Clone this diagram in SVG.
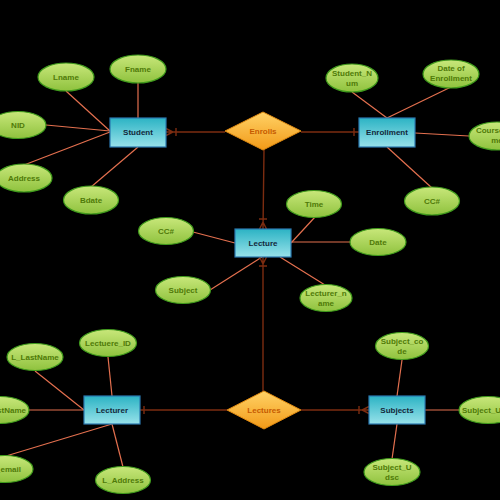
<svg xmlns="http://www.w3.org/2000/svg" width="500" height="500" viewBox="0 0 500 500">
  <defs>
    <linearGradient id="entFill" x1="0" y1="0" x2="0" y2="1">
      <stop offset="0" stop-color="#2cb3c4"/>
      <stop offset="1" stop-color="#98e2ea"/>
    </linearGradient>
    <linearGradient id="relFill" x1="0" y1="0" x2="0" y2="1">
      <stop offset="0" stop-color="#ffd266"/>
      <stop offset="1" stop-color="#f29a18"/>
    </linearGradient>
    <linearGradient id="attFill" x1="0" y1="0" x2="0" y2="1">
      <stop offset="0" stop-color="#c8e77a"/>
      <stop offset="1" stop-color="#8fc23e"/>
    </linearGradient>
    <style>
      .ent rect { fill: url(#entFill); stroke: #2a78b0; stroke-width: 1.2; }
      .rel polygon { fill: url(#relFill); stroke: #e08a10; stroke-width: 1; }
      .att ellipse { fill: url(#attFill); stroke: #3f9a1c; stroke-width: 1.2; }
      text { font-family: "Liberation Sans", Arial, sans-serif; font-weight: bold; font-size: 8px; text-anchor: middle; }
      .ent text { fill: #14283a; }
      .rel text { fill: #c65a00; }
      .att text { fill: #4f7a08; }
      .attr-line { stroke: #e4704f; stroke-width: 1.2; fill: none; }
      .rel-line { stroke: #7c2c10; stroke-width: 1.4; fill: none; }
    </style>
  </defs>
  <rect width="500" height="500" fill="#000"/>

  <!-- connectors -->
  <g id="connectors">
    <!-- attribute links -->
    <line class="attr-line" x1="66" y1="91" x2="110" y2="131"/>
    <line class="attr-line" x1="138" y1="83" x2="138" y2="118"/>
    <line class="attr-line" x1="46" y1="125" x2="110" y2="131"/>
    <line class="attr-line" x1="24" y1="165" x2="110" y2="132"/>
    <line class="attr-line" x1="91" y1="187" x2="138" y2="147"/>
    <line class="attr-line" x1="352" y1="92" x2="387" y2="118"/>
    <line class="attr-line" x1="451" y1="87" x2="387" y2="118"/>
    <line class="attr-line" x1="415" y1="133" x2="469" y2="136"/>
    <line class="attr-line" x1="432" y1="188" x2="387" y2="147"/>
    <line class="attr-line" x1="315" y1="217" x2="291" y2="243"/>
    <line class="attr-line" x1="193" y1="232" x2="235" y2="243"/>
    <line class="attr-line" x1="291" y1="242" x2="350" y2="242"/>
    <line class="attr-line" x1="210" y1="290" x2="262" y2="257"/>
    <line class="attr-line" x1="325" y1="285" x2="280" y2="257"/>
    <line class="attr-line" x1="108" y1="357" x2="112" y2="396"/>
    <line class="attr-line" x1="35" y1="371" x2="84" y2="410"/>
    <line class="attr-line" x1="29" y1="410" x2="84" y2="410"/>
    <line class="attr-line" x1="6" y1="456" x2="112" y2="424"/>
    <line class="attr-line" x1="123" y1="467" x2="112" y2="424"/>
    <line class="attr-line" x1="402" y1="360" x2="397" y2="396"/>
    <line class="attr-line" x1="425" y1="410" x2="459" y2="410"/>
    <line class="attr-line" x1="392" y1="459" x2="397" y2="424"/>

    <!-- relationship links with cardinality ends -->
    <path class="rel-line" d="M166 132 H225 M166 128.5 L173 132 L166 135.5 M176 128 V136"/>
    <path class="rel-line" d="M301 132 H359 M354 128 V136"/>
    <path class="rel-line" d="M264 150 L263 229 M259 219 H267 M259.5 229 L263 222 L266.5 229"/>
    <path class="rel-line" d="M263 257 V391 M259.5 257 L263 264 L266.5 257 M259 266 H267"/>
    <path class="rel-line" d="M227 410 H140 M144 406 V414"/>
    <path class="rel-line" d="M301 410 H369 M369 406.5 L362 410 L369 413.5 M359 406 V414"/>
  </g>

  <!-- entities -->
  <g id="student" class="ent"><rect x="110" y="118" width="56" height="29"/><text x="138" y="135">Student</text></g>
  <g id="enrollment" class="ent"><rect x="359" y="118" width="56" height="29"/><text x="387" y="135">Enrollment</text></g>
  <g id="lecture" class="ent"><rect x="235" y="229" width="56" height="28"/><text x="263" y="246">Lecture</text></g>
  <g id="lecturer" class="ent"><rect x="84" y="396" width="56" height="28"/><text x="112" y="413">Lecturer</text></g>
  <g id="subjects" class="ent"><rect x="369" y="396" width="56" height="28"/><text x="397" y="413">Subjects</text></g>

  <!-- relationships -->
  <g id="enrolls" class="rel"><polygon points="225,131 263,112 301,131 263,150"/><text x="263" y="134">Enrolls</text></g>
  <g id="lectures" class="rel"><polygon points="227,410 264,391 301,410 264,429"/><text x="264" y="413">Lectures</text></g>

  <!-- attributes -->
  <g id="att-lname" class="att"><ellipse cx="66" cy="77" rx="28" ry="14"/><text x="66" y="80">Lname</text></g>
  <g id="att-fname" class="att"><ellipse cx="138" cy="69" rx="28" ry="14"/><text x="138" y="72">Fname</text></g>
  <g id="att-nid" class="att"><ellipse cx="18" cy="125" rx="28" ry="13.5"/><text x="18" y="128">NID</text></g>
  <g id="att-address" class="att"><ellipse cx="24" cy="178" rx="28" ry="14"/><text x="24" y="181">Address</text></g>
  <g id="att-bdate" class="att"><ellipse cx="91" cy="200" rx="27.5" ry="14"/><text x="91" y="203">Bdate</text></g>
  <g id="att-student-num" class="att"><ellipse cx="352" cy="78" rx="26" ry="14"/><text x="352" y="76">Student_N</text><text x="352" y="86">um</text></g>
  <g id="att-date-enrollment" class="att"><ellipse cx="451" cy="74" rx="28" ry="14"/><text x="451" y="71">Date of</text><text x="451" y="81">Enrollment</text></g>
  <g id="att-course" class="att"><ellipse cx="497" cy="136" rx="28" ry="14"/><text x="497" y="133">Course_Na</text><text x="497" y="143">me</text></g>
  <g id="att-cc-enrollment" class="att"><ellipse cx="432" cy="201" rx="27.5" ry="14"/><text x="432" y="204">CC#</text></g>
  <g id="att-time" class="att"><ellipse cx="314" cy="204" rx="27.5" ry="13.5"/><text x="314" y="207">Time</text></g>
  <g id="att-cc-lecture" class="att"><ellipse cx="166" cy="231" rx="27.5" ry="13.5"/><text x="166" y="234">CC#</text></g>
  <g id="att-date" class="att"><ellipse cx="378" cy="242" rx="28" ry="13.5"/><text x="378" y="245">Date</text></g>
  <g id="att-subject" class="att"><ellipse cx="183" cy="290" rx="27.5" ry="13.5"/><text x="183" y="293">Subject</text></g>
  <g id="att-lecturer-name" class="att"><ellipse cx="326" cy="298" rx="26" ry="13.5"/><text x="326" y="296">Lecturer_n</text><text x="326" y="306">ame</text></g>
  <g id="att-lectuere-id" class="att"><ellipse cx="108" cy="343" rx="28.5" ry="13.5"/><text x="108" y="346">Lectuere_ID</text></g>
  <g id="att-l-lastname" class="att"><ellipse cx="35" cy="357" rx="28" ry="13.5"/><text x="35" y="360">L_LastName</text></g>
  <g id="att-l-firstname" class="att"><ellipse cx="0" cy="410" rx="29" ry="13.5"/><text x="26" y="413" style="text-anchor:end">L_FirstName</text></g>
  <g id="att-email" class="att"><ellipse cx="5" cy="469" rx="28" ry="13.5"/><text x="21" y="472" style="text-anchor:end">L_email</text></g>
  <g id="att-l-address" class="att"><ellipse cx="123" cy="480" rx="27.5" ry="13.5"/><text x="123" y="483">L_Address</text></g>
  <g id="att-subject-code" class="att"><ellipse cx="402" cy="346" rx="26.5" ry="13.5"/><text x="402" y="344">Subject_co</text><text x="402" y="354">de</text></g>
  <g id="att-subject-u" class="att"><ellipse cx="488" cy="410" rx="29" ry="13.5"/><text x="462" y="413" style="text-anchor:start">Subject_U</text></g>
  <g id="att-subject-udsc" class="att"><ellipse cx="392" cy="472" rx="28" ry="13.5"/><text x="392" y="470">Subject_U</text><text x="392" y="480">dsc</text></g>
</svg>
